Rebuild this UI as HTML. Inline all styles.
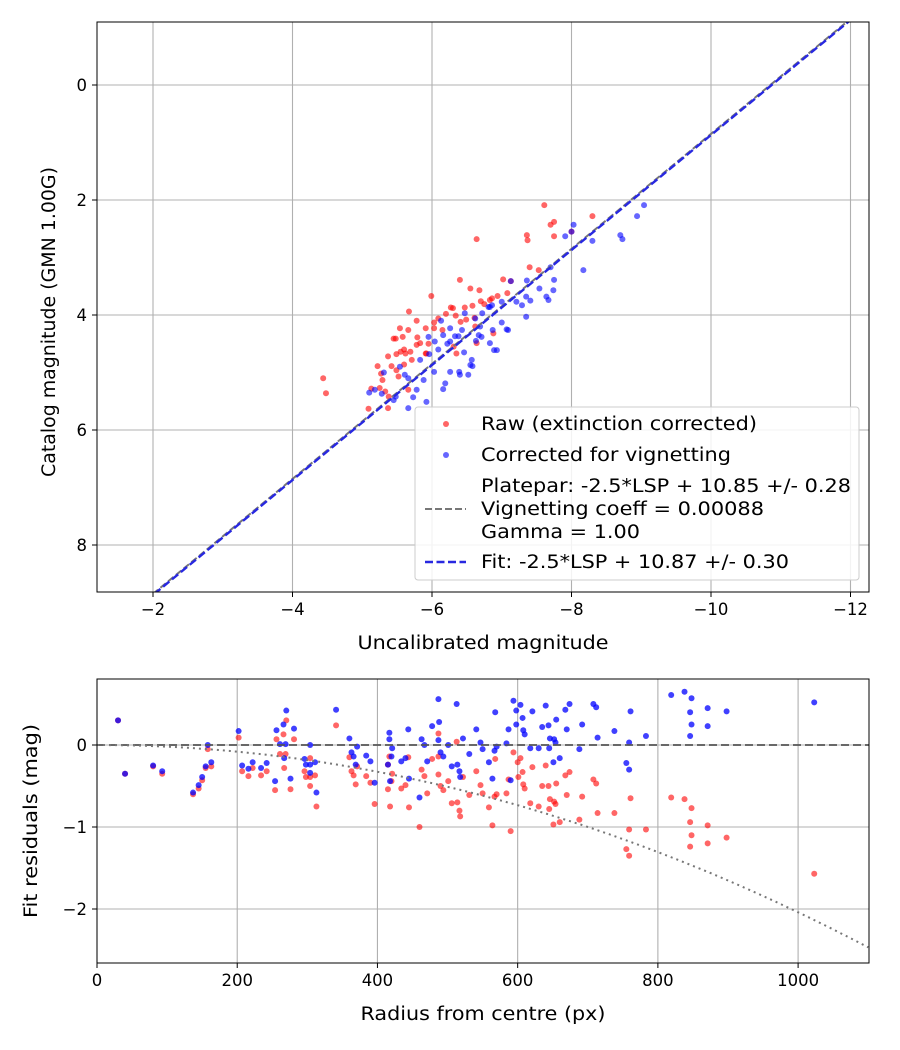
<!DOCTYPE html>
<html><head><meta charset="utf-8"><style>
body{margin:0;background:#fff;}
svg{display:block;font-family:"DejaVu Sans","Liberation Sans",sans-serif;}
</style></head><body>
<svg id="chart" width="900" height="1050" viewBox="0 0 900 1050" xmlns="http://www.w3.org/2000/svg"></svg>
<script>
// ---------- Top chart data ----------
const topXTicks=[-2,-4,-6,-8,-10,-12];
const topYTicks=[0,2,4,6,8];
const rawX=[-4.44,-4.48,-5.09,-5.13,-5.37,-5.22,-5.27,-5.29,-5.25,-5.33,-5.37,-5.42,-5.45,-5.48,-5.54,-5.58,-5.62,-5.66,-5.67,-5.49,-5.55,-5.60,-5.69,-5.71,-5.78,-5.79,-5.78,-5.83,-5.91,-5.95,-5.91,-5.99,-6.03,-6.03,-6.09,-6.15,-6.20,-6.27,-6.30,-6.34,-6.40,-6.41,-6.47,-6.49,-6.55,-6.58,-6.61,-6.64,-6.68,-6.64,-6.62,-6.70,-6.75,-6.83,-6.86,-6.88,-6.94,-7.02,-7.08,-7.13,-7.36,-7.37,-7.40,-7.53,-7.61,-7.70,-7.75,-7.75,-8.30,-8.00,-6.35,-6.31,-5.49,-5.52,-5.66,-5.38,-5.60,-5.92];
const rawY=[5.10,5.36,5.63,5.28,5.62,4.89,5.02,5.13,5.27,5.33,4.72,4.89,4.41,4.41,4.23,4.38,4.67,4.26,3.94,4.68,4.64,4.60,4.64,4.78,4.52,4.39,4.10,4.49,4.23,4.50,4.67,3.67,4.13,4.23,4.06,4.26,3.98,3.87,3.88,4.01,3.39,4.12,3.87,4.08,3.54,3.84,4.05,2.68,3.57,4.49,4.20,3.76,3.81,3.74,3.71,4.32,3.67,3.38,3.62,3.41,2.61,2.70,3.17,3.22,2.09,2.43,2.38,2.63,2.28,2.55,4.67,4.55,4.96,5.07,5.30,5.42,4.86,4.67];
const corX=[-5.10,-5.18,-5.28,-5.31,-5.45,-5.48,-5.54,-5.61,-5.66,-5.66,-5.73,-5.78,-5.83,-5.88,-5.92,-5.95,-5.96,-6.03,-6.04,-6.09,-6.13,-6.16,-6.16,-6.19,-6.22,-6.26,-6.26,-6.33,-6.38,-6.39,-6.43,-6.46,-6.47,-6.55,-6.57,-6.58,-6.62,-6.63,-6.67,-6.69,-6.71,-6.72,-6.81,-6.83,-6.87,-6.89,-6.93,-7.00,-7.00,-7.07,-7.09,-7.21,-7.29,-7.35,-7.35,-7.36,-7.41,-7.54,-7.64,-7.67,-7.70,-7.74,-7.75,-7.91,-8.03,-8.17,-8.30,-8.70,-8.73,-8.94,-9.04,-6.83,-6.86,-6.26,-6.40,-6.52,-7.13,-8.00];
const corY=[5.35,5.30,5.37,5.00,5.48,5.42,4.90,5.04,5.10,5.62,5.43,5.30,4.78,5.13,5.51,4.38,4.68,4.99,4.46,4.60,4.10,4.35,5.29,5.19,4.50,4.46,4.23,4.37,4.37,4.99,4.26,4.65,3.97,4.87,4.78,4.89,4.06,4.45,4.35,4.20,4.38,3.97,3.86,4.49,4.26,4.61,4.61,4.13,3.77,4.25,4.26,3.77,3.83,4.03,3.68,3.40,3.75,3.54,3.68,3.74,3.17,3.57,3.39,2.63,2.43,3.22,2.71,2.61,2.68,2.28,2.09,3.86,3.83,4.99,5.04,5.04,3.41,2.55];
const fitIntercept=10.87, plateIntercept=10.85;
// ---------- Bottom chart data ----------
const botXTicks=[0,200,400,600,800,1000];
const botYTicks=[0,-1,-2];
const resRawR=[202,207,216,222,234,242,254,256,266,270,261,269,281,267,276,304,296,298,304,311,304,313,341,360,363,366,369,371,384,390,396,417,415,421,420,415,418,444,434,440,445,460,463,467,471,478,487,487,487,490,494,501,513,506,514,517,518,522,531,541,547,550,559,564,568,567,570,584,587,590,594,158,163,155,150,145,137,80,93,30,40,604,600,607,601,608,610,621,640,635,644,655,646,652,654,670,668,674,708,712,692,714,738,761,759,783,618,630,645,688,651,660,755,759,819,838,848,846,848,846,871,871,898,1023];
const resRawV=[0.09,-0.32,-0.38,-0.28,-0.37,-0.32,-0.55,0.07,0.13,0.30,-0.11,-0.11,0.07,-0.28,-0.54,-0.16,-0.32,-0.39,-0.39,-0.37,-0.50,-0.75,0.24,-0.15,-0.32,-0.37,-0.48,-0.26,-0.38,-0.46,-0.72,-0.14,-0.24,-0.35,-0.44,-0.54,-0.75,-0.15,-0.53,-0.49,-0.76,-1.00,-0.30,-0.38,-0.59,-0.17,0.14,-0.14,-0.36,-0.50,-0.55,-0.44,0.04,-0.71,-0.70,-0.80,-0.87,-0.39,-0.61,-0.32,-0.49,-0.59,-0.76,-0.98,-0.17,-0.63,-0.60,-0.59,-0.42,-1.05,-0.09,-0.05,-0.26,-0.28,-0.43,-0.53,-0.60,-0.26,-0.35,0.30,-0.35,-0.16,-0.21,-0.33,-0.39,-0.48,-0.53,-0.27,-0.25,-0.50,-0.50,-0.47,-0.66,-0.69,-0.72,-0.61,-0.37,-0.33,-0.42,-0.47,-0.63,-0.83,-0.83,-0.65,-1.03,-1.03,-0.71,-0.75,-0.78,-0.91,-0.97,-0.94,-1.27,-1.35,-0.64,-0.66,-0.77,-0.94,-1.10,-1.24,-0.98,-1.20,-1.13,-1.57];
const resCorR=[30,40,80,93,158,163,155,150,145,137,202,207,222,216,234,242,254,256,266,270,261,269,281,267,276,304,296,298,304,311,304,313,341,360,363,366,371,369,384,390,396,417,417,421,420,415,418,444,434,440,445,460,463,467,471,478,487,488,487,490,494,501,513,506,514,517,518,522,531,541,547,550,559,564,568,567,570,587,584,594,590,598,598,604,607,608,610,621,640,635,644,655,646,652,654,670,668,674,708,712,692,714,738,761,759,783,618,630,645,688,651,660,755,759,819,838,848,846,848,846,871,871,898,1023];
const resCorV=[0.30,-0.35,-0.25,-0.32,0.00,-0.21,-0.26,-0.39,-0.49,-0.58,0.17,-0.25,-0.21,-0.29,-0.28,-0.22,-0.44,0.18,0.25,0.42,0.01,0.01,0.20,-0.16,-0.41,0.00,-0.17,-0.24,-0.24,-0.21,-0.34,-0.58,0.43,0.08,-0.09,-0.14,-0.02,-0.24,-0.13,-0.20,-0.46,0.15,0.07,-0.04,-0.14,-0.24,-0.44,0.19,-0.20,-0.16,-0.41,-0.64,0.07,0.00,-0.20,0.23,0.56,0.28,0.06,-0.09,-0.14,0.00,0.50,-0.26,-0.24,-0.32,-0.39,0.08,-0.11,0.19,0.03,-0.05,-0.21,-0.41,0.40,-0.07,-0.02,0.19,0.02,0.54,-0.43,0.42,0.25,0.49,0.33,0.18,0.13,0.41,0.48,0.22,0.24,0.31,0.08,0.07,0.03,0.19,0.43,0.50,0.50,0.46,0.25,0.09,0.17,0.41,0.03,0.11,-0.04,-0.04,-0.04,-0.05,-0.21,-0.16,-0.22,-0.30,0.61,0.65,0.57,0.40,0.25,0.11,0.45,0.23,0.41,0.52];
const vignCoeff=0.00088;

const NS="http://www.w3.org/2000/svg";
const svg=document.getElementById('chart');
function mk(tag,attrs,parent){const e=document.createElementNS(NS,tag);for(const k in attrs)e.setAttribute(k,attrs[k]);(parent||svg).appendChild(e);return e;}
function txt(s,attrs,parent){const e=mk('text',attrs,parent);e.textContent=s;return e;}
const FS=16.5, LFS=18.5;

const T={l:97,r:869,t:22,b:592};
const tx=v=>153+(-2-v)*69.75;
const ty=v=>85+v*57.5;
const B={l:97,r:869,t:679,b:963};
const bx=v=>97+v*0.7011;
const by=v=>745-v*82;

const gTop=mk('g',{});


const clipT=mk('clipPath',{id:'ct'});mk('rect',{x:T.l,y:T.t,width:T.r-T.l,height:T.b-T.t},clipT);
const clipB=mk('clipPath',{id:'cb'});mk('rect',{x:B.l,y:B.t,width:B.r-B.l,height:B.b-B.t},clipB);

topXTicks.forEach(v=>{const x=tx(v);
 const l=mk('line',{x1:x,x2:x,y1:T.t,y2:T.b,stroke:'#b0b0b0','stroke-width':1.1},gTop);
 
 mk('line',{x1:x,x2:x,y1:T.b,y2:T.b+5,stroke:'#000'},gTop);
 const t=txt(String(v).replace('-','−'),{x:x,y:T.b+23,'font-size':FS,'text-anchor':'middle'},gTop);
 });
topYTicks.forEach(v=>{const y=ty(v);
 const l=mk('line',{x1:T.l,x2:T.r,y1:y,y2:y,stroke:'#b0b0b0','stroke-width':1.1},gTop);
 
 mk('line',{x1:T.l-5,x2:T.l,y1:y,y2:y,stroke:'#000'},gTop);
 const t=txt(String(v),{x:T.l-10,y:y+6,'font-size':FS,'text-anchor':'end'},gTop);
 });

const pT=mk('g',{'clip-path':'url(#ct)'},gTop);
rawX.forEach((v,i)=>{const c=mk('circle',{cx:tx(v),cy:ty(rawY[i]),r:3,fill:'#ff0000','fill-opacity':0.6},pT);
 });
corX.forEach((v,i)=>{const c=mk('circle',{cx:tx(v),cy:ty(corY[i]),r:3,fill:'#0000ff','fill-opacity':0.6},pT);
 });
const pl=mk('line',{x1:tx(-1),y1:ty(-1+plateIntercept),x2:tx(-13),y2:ty(-13+plateIntercept),stroke:'#777','stroke-width':2,'stroke-dasharray':'7,3'},pT);

const fl=mk('line',{x1:tx(-1),y1:ty(-1+fitIntercept),x2:tx(-13),y2:ty(-13+fitIntercept),stroke:'#2828e0','stroke-width':2.4,'stroke-dasharray':'8,3.5'},pT);

mk('rect',{x:T.l,y:T.t,width:T.r-T.l,height:T.b-T.t,fill:'none',stroke:'#000','stroke-width':1},gTop);

const lg=mk('g',{},gTop);

mk('rect',{x:415,y:407,width:444,height:173,rx:3,fill:'#fff','fill-opacity':0.85,stroke:'#ccc'},lg);
mk('circle',{cx:446,cy:424,r:3,fill:'#ff0000','fill-opacity':0.6},lg);
txt('Raw (extinction corrected)',{x:481,y:430,'font-size':LFS,textLength:276,lengthAdjust:'spacingAndGlyphs'},lg);
mk('circle',{cx:446,cy:455,r:3,fill:'#0000ff','fill-opacity':0.6},lg);
txt('Corrected for vignetting',{x:481,y:461,'font-size':LFS,textLength:250,lengthAdjust:'spacingAndGlyphs'},lg);
mk('line',{x1:425,x2:466,y1:509,y2:509,stroke:'#777','stroke-width':2,'stroke-dasharray':'7,3'},lg);
txt('Platepar: -2.5*LSP + 10.85 +/- 0.28',{x:481,y:492,'font-size':LFS,textLength:370,lengthAdjust:'spacingAndGlyphs'},lg);
txt('Vignetting coeff = 0.00088',{x:481,y:515,'font-size':LFS,textLength:283,lengthAdjust:'spacingAndGlyphs'},lg);
txt('Gamma = 1.00',{x:481,y:538,'font-size':LFS,textLength:159,lengthAdjust:'spacingAndGlyphs'},lg);
mk('line',{x1:425,x2:466,y1:562,y2:562,stroke:'#2828e0','stroke-width':2.4,'stroke-dasharray':'8,3.5'},lg);
txt('Fit: -2.5*LSP + 10.87 +/- 0.30',{x:481,y:568,'font-size':LFS,textLength:308,lengthAdjust:'spacingAndGlyphs'},lg);

const xt=txt('Uncalibrated magnitude',{x:483,y:649,'font-size':LFS,'text-anchor':'middle',textLength:251,lengthAdjust:'spacingAndGlyphs'},gTop);

const yt=txt('Catalog magnitude (GMN 1.00G)',{x:0,y:0,'font-size':LFS,'text-anchor':'middle',textLength:310,lengthAdjust:'spacingAndGlyphs',transform:'translate(55,322) rotate(-90)'},gTop);


const gB=mk('g',{});


botXTicks.forEach(v=>{const x=bx(v);
 mk('line',{x1:x,x2:x,y1:B.t,y2:B.b,stroke:'#b0b0b0','stroke-width':1.1},gB);
 mk('line',{x1:x,x2:x,y1:B.b,y2:B.b+5,stroke:'#000'},gB);
 const t=txt(String(v),{x:x,y:B.b+23,'font-size':FS,'text-anchor':'middle'},gB);
 });
botYTicks.forEach(v=>{const y=by(v);
 mk('line',{x1:B.l,x2:B.r,y1:y,y2:y,stroke:'#b0b0b0','stroke-width':1.1},gB);
 mk('line',{x1:B.l-5,x2:B.l,y1:y,y2:y,stroke:'#000'},gB);
 const t=txt(String(v).replace('-','−'),{x:B.l-10,y:y+6,'font-size':FS,'text-anchor':'end'},gB);
 });
const pB=mk('g',{'clip-path':'url(#cb)'},gB);
resRawR.forEach((v,i)=>{const c=mk('circle',{cx:bx(v),cy:by(resRawV[i]),r:3,fill:'#ff0000','fill-opacity':0.6},pB);
 });
resCorR.forEach((v,i)=>{const c=mk('circle',{cx:bx(v),cy:by(resCorV[i]),r:3,fill:'#0000ff','fill-opacity':0.75},pB);
 });
const zl=mk('line',{x1:B.l,x2:B.r,y1:by(0),y2:by(0),stroke:'#555','stroke-opacity':0.85,'stroke-width':2,'stroke-dasharray':'8,4'},pB);

let d='';for(let r=0;r<=1100;r+=10){const v=-2.04e-6*r*r*(vignCoeff/0.00088);d+=(r?'L':'M')+bx(r).toFixed(1)+','+by(v).toFixed(1);}
const vc=mk('path',{d:d,fill:'none',stroke:'#777','stroke-width':2,'stroke-dasharray':'2,4'},pB);

mk('rect',{x:B.l,y:B.t,width:B.r-B.l,height:B.b-B.t,fill:'none',stroke:'#000','stroke-width':1},gB);
const bxt=txt('Radius from centre (px)',{x:483,y:1020,'font-size':LFS,'text-anchor':'middle',textLength:245,lengthAdjust:'spacingAndGlyphs'},gB);

const byt=txt('Fit residuals (mag)',{x:0,y:0,'font-size':LFS,'text-anchor':'middle',textLength:194,lengthAdjust:'spacingAndGlyphs',transform:'translate(37,821) rotate(-90)'},gB);

</script>
</body></html>
